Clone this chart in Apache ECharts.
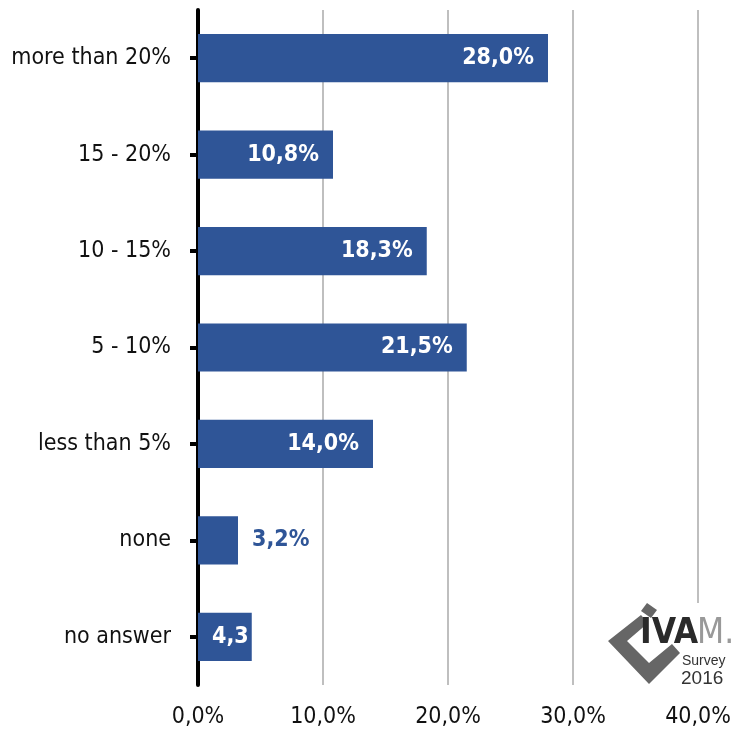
<!DOCTYPE html>
<html><head><meta charset="utf-8">
<script src="https://cdn.jsdelivr.net/npm/echarts@6/dist/echarts.min.js"></script>
<style>html,body{margin:0;padding:0;background:#fff}#c{width:734px;height:734px}</style>
</head><body><div id="c"></div>
<script>
const categories = ['more than 20%', '15 - 20%', '10 - 15%', '5 - 10%', 'less than 5%', 'none', 'no answer'];
const values = [28.0, 10.8, 18.3, 21.5, 14.0, 3.2, 4.3];
const xTicks = [0, 10, 20, 30, 40];

const FONT = '"DejaVu Sans Condensed","Liberation Sans Narrow",sans-serif';
const BLUE = '#2F5597';
const fmt = v => v.toFixed(1).replace('.', ',') + '%';

const data = values.map((v, i) => {
  const d = { value: v };
  if (categories[i] === 'none') {
    d.label = { position: 'right', color: BLUE, distance: 14 };
  } else if (categories[i] === 'no answer') {
    d.label = { position: 'insideLeft', distance: 14, width: 46, overflow: 'truncate', ellipsis: '' };
  }
  return d;
});

const chart = echarts.init(document.getElementById('c'));
chart.setOption({
  animation: false,
  grid: { left: 198, right: 36, top: 10, bottom: 49, containLabel: false },
  xAxis: {
    type: 'value', min: xTicks[0], max: xTicks[xTicks.length - 1], interval: 10,
    axisLine: { show: false }, axisTick: { show: false },
    splitLine: { lineStyle: { color: '#BFBFBF', width: 2 } },
    axisLabel: { formatter: v => fmt(v), fontFamily: FONT, fontSize: 23, color: '#111', margin: 21 }
  },
  yAxis: {
    type: 'category', data: categories, inverse: true,
    axisLine: { show: true, lineStyle: { color: '#000', width: 4 } },
    axisTick: { show: true, inside: false, alignWithLabel: true, length: 8, lineStyle: { color: '#000', width: 4 } },
    axisLabel: { fontFamily: FONT, fontSize: 23, color: '#111', margin: 27 }
  },
  series: [{
    type: 'bar', data: data, barCategoryGap: '50%',
    itemStyle: { color: BLUE },
    label: {
      show: true, position: 'insideRight', distance: 14, color: '#fff',
      fontFamily: FONT, fontWeight: 'bold', fontSize: 23,
      formatter: p => fmt(p.value)
    }
  }],
  graphic: [
    { type: 'rect', left: 606, top: 603, shape: { width: 128, height: 90 }, style: { fill: '#fff' }, z: 100 },
    { type: 'polygon', z: 101, shape: { points: [[641,615],[648,623],[627,641],[649,663],[672,644],[680,653],[649,684],[608,641]] }, style: { fill: '#666' } },
    { type: 'polygon', z: 101, shape: { points: [[641,611],[647,603],[657,610],[651,618]] }, style: { fill: '#666' } },
    { type: 'text', z: 103, left: 640, top: 616, style: { text: 'IVA', font: 'bold 35px "DejaVu Sans Condensed",sans-serif', fill: '#2a2a2a' } },
    { type: 'text', z: 103, left: 697, top: 616, style: { text: 'M.', font: '35px "DejaVu Sans Condensed",sans-serif', fill: '#999' } },
    { type: 'text', z: 103, left: 682, top: 654, style: { text: 'Survey', font: '14px "Liberation Sans",sans-serif', fill: '#333' } },
    { type: 'text', z: 103, left: 681, top: 669, style: { text: '2016', font: '19px "Liberation Sans",sans-serif', fill: '#333' } }
  ]
});
</script></body></html>
